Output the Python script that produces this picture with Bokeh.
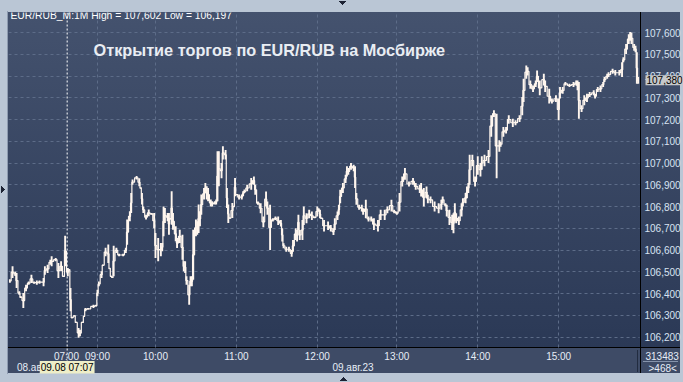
from bokeh.plotting import figure
from bokeh.models import (Range1d, LinearAxis, FixedTicker, Grid, Label, Span, BoxAnnotation,
                          ColumnDataSource)
from bokeh.embed import file_html
from bokeh.resources import INLINE

# ---------------- data (1-minute bars) ----------------
bar = [1, 3, 5, 6, 8, 9, 11, 13, 15, 17, 19, 21, 23, 26, 27, 29, 31, 32, 35, 37, 39, 41, 42, 44, 45,
       46, 47, 49, 50, 52, 53, 55, 56, 57, 59, 63, 65, 66, 67, 69, 70, 72, 74, 75, 76, 77, 78, 80, 82,
       85, 87, 88, 90, 91, 92, 95, 97, 98, 99, 100, 102, 104, 106, 108, 109, 111, 113, 114, 115, 116,
       118, 119, 120, 121, 122, 124, 125, 127, 129, 130, 131, 132, 134, 135, 136, 137, 139, 140, 141,
       142, 143, 145, 146, 147, 148, 150, 151, 153, 154, 155, 156, 158, 159, 161, 162, 163, 164, 166,
       167, 168, 169, 171, 173, 174, 175, 177, 180, 182, 183, 185, 187, 189, 191, 192, 194, 196, 198,
       200, 202, 203, 204, 206, 208, 210, 211, 213, 214, 215, 216, 218, 219, 221, 223, 225, 227, 229,
       230, 231, 232, 234, 237, 239, 241, 242, 244, 245, 246, 248, 250, 251, 252, 254, 256, 257, 258,
       260, 262, 263, 265, 267, 269, 271, 274, 276, 279, 281, 284, 286, 288, 290, 292, 294, 297, 300,
       302, 305, 306, 308, 310, 311, 313, 316, 319, 321, 322, 324, 325, 327, 329, 330, 331, 332, 334,
       336, 337, 339, 340, 341, 342, 344, 346, 348, 350, 351, 353, 356, 358, 360, 362, 364, 365, 367,
       369, 371, 374, 376, 379, 381, 382, 384, 385, 387, 389, 391, 392, 394, 397, 398, 401, 403, 406,
       408, 409, 411, 413, 416, 419, 421, 422, 423, 425, 427, 429, 431, 434, 435, 437, 439, 441, 442,
       444, 445, 448, 450, 453, 455, 456, 458, 460, 461, 462, 464, 465, 466, 467]

high = [106.465, 106.525, 106.500, 106.494, 106.410, 106.387, 106.402, 106.440, 106.455, 106.486,
        106.455, 106.460, 106.460, 106.471, 106.525, 106.532, 106.555, 106.571, 106.563, 106.540,
        106.548, 106.482, 106.666, 106.517, 106.512, 106.425, 106.292, 106.300, 106.270, 106.241,
        106.233, 106.270, 106.298, 106.333, 106.333, 106.348, 106.348, 106.417, 106.455, 106.502,
        106.533, 106.610, 106.625, 106.518, 106.482, 106.477, 106.620, 106.610, 106.583, 106.583,
        106.610, 106.740, 106.778, 106.862, 106.924, 106.940, 106.930, 106.888, 106.862, 106.800,
        106.762, 106.786, 106.770, 106.770, 106.678, 106.655, 106.632, 106.632, 106.800, 106.793,
        106.770, 106.770, 106.747, 106.870, 106.770, 106.709, 106.655, 106.693, 106.670, 106.548,
        106.548, 106.479, 106.440, 106.479, 106.479, 106.693, 106.740, 106.732, 106.809, 106.778,
        106.855, 106.885, 106.908, 106.893, 106.885, 106.832, 106.824, 106.824, 106.832, 107.054,
        107.054, 107.000, 107.077, 107.060, 106.885, 106.809, 106.750, 106.816, 106.803, 106.931,
        106.858, 106.855, 106.855, 106.870, 106.878, 106.900, 106.931, 106.938, 106.900, 106.823,
        106.815, 106.754, 106.869, 106.823, 106.808, 106.746, 106.754, 106.754, 106.738, 106.700,
        106.631, 106.615, 106.615, 106.600, 106.646, 106.700, 106.692, 106.762, 106.692, 106.738,
        106.800, 106.769, 106.785, 106.777, 106.754, 106.800, 106.792, 106.785, 106.749, 106.738,
        106.731, 106.715, 106.700, 106.746, 106.777, 106.808, 106.877, 106.908, 106.946, 106.985,
        106.977, 107.000, 106.992, 106.985, 106.862, 106.808, 106.808, 106.792, 106.831, 106.754,
        106.754, 106.746, 106.738, 106.785, 106.785, 106.800, 106.831, 106.785, 106.777, 106.862,
        106.938, 106.977, 106.915, 106.931, 106.908, 106.900, 106.908, 106.885, 106.892, 106.854,
        106.846, 106.823, 106.815, 106.831, 106.846, 106.815, 106.808, 106.785, 106.762, 106.769,
        106.815, 106.769, 106.754, 106.815, 106.838, 106.862, 106.892, 106.908, 107.038, 107.038,
        106.938, 107.031, 107.000, 107.031, 107.038, 107.060, 107.219, 107.242, 107.227, 107.105,
        107.098, 107.166, 107.166, 107.219, 107.204, 107.197, 107.219, 107.303, 107.387, 107.448,
        107.440, 107.379, 107.356, 107.379, 107.425, 107.379, 107.410, 107.379, 107.341, 107.296,
        107.311, 107.296, 107.349, 107.349, 107.372, 107.364, 107.372, 107.379, 107.379, 107.372,
        107.265, 107.311, 107.318, 107.326, 107.334, 107.318, 107.349, 107.356, 107.372, 107.395,
        107.410, 107.417, 107.433, 107.428, 107.428, 107.463, 107.486, 107.547, 107.592, 107.602,
        107.600, 107.547, 107.539, 107.509, 107.395]

low = [106.450, 106.471, 106.480, 106.425, 106.394, 106.379, 106.333, 106.410, 106.440, 106.448,
       106.445, 106.440, 106.445, 106.433, 106.486, 106.494, 106.532, 106.525, 106.548, 106.471,
       106.502, 106.476, 106.525, 106.479, 106.506, 106.318, 106.286, 106.294, 106.264, 106.197,
       106.203, 106.264, 106.292, 106.318, 106.326, 106.333, 106.340, 106.387, 106.433, 106.471,
       106.527, 106.571, 106.540, 106.512, 106.476, 106.471, 106.479, 106.586, 106.571, 106.571,
       106.586, 106.624, 106.732, 106.770, 106.900, 106.924, 106.893, 106.882, 106.809, 106.770,
       106.740, 106.755, 106.762, 106.700, 106.563, 106.548, 106.571, 106.594, 106.663, 106.724,
       106.732, 106.670, 106.740, 106.716, 106.693, 106.640, 106.609, 106.632, 106.555, 106.502,
       106.494, 106.440, 106.348, 106.433, 106.433, 106.463, 106.663, 106.670, 106.678, 106.709,
       106.762, 106.832, 106.862, 106.832, 106.824, 106.800, 106.800, 106.809, 106.809, 106.824,
       106.893, 106.930, 107.016, 107.016, 106.793, 106.724, 106.744, 106.747, 106.797, 106.847,
       106.852, 106.832, 106.832, 106.847, 106.862, 106.870, 106.877, 106.900, 106.854, 106.808,
       106.769, 106.705, 106.800, 106.762, 106.600, 106.731, 106.738, 106.715, 106.708, 106.639,
       106.608, 106.592, 106.592, 106.569, 106.592, 106.646, 106.639, 106.692, 106.646, 106.646,
       106.715, 106.723, 106.746, 106.738, 106.746, 106.754, 106.777, 106.746, 106.743, 106.685,
       106.692, 106.685, 106.669, 106.692, 106.738, 106.762, 106.815, 106.862, 106.908, 106.938,
       106.946, 106.969, 106.962, 106.885, 106.808, 106.785, 106.777, 106.762, 106.746, 106.731,
       106.731, 106.692, 106.685, 106.738, 106.738, 106.769, 106.777, 106.769, 106.762, 106.777,
       106.892, 106.923, 106.892, 106.900, 106.877, 106.862, 106.846, 106.800, 106.838, 106.815,
       106.815, 106.777, 106.769, 106.785, 106.815, 106.800, 106.754, 106.715, 106.692, 106.677,
       106.731, 106.723, 106.715, 106.754, 106.800, 106.815, 106.838, 106.862, 106.900, 106.985,
       106.892, 106.946, 106.938, 106.969, 106.985, 107.000, 107.121, 107.212, 106.930, 107.052,
       107.075, 107.121, 107.136, 107.181, 107.166, 107.174, 107.189, 107.219, 107.280, 107.387,
       107.402, 107.341, 107.326, 107.349, 107.372, 107.311, 107.356, 107.326, 107.273, 107.273,
       107.280, 107.197, 107.296, 107.318, 107.356, 107.349, 107.349, 107.356, 107.334, 107.204,
       107.235, 107.265, 107.280, 107.303, 107.311, 107.296, 107.326, 107.326, 107.349, 107.372,
       107.387, 107.395, 107.410, 107.402, 107.402, 107.395, 107.463, 107.501, 107.547, 107.562,
       107.547, 107.516, 107.509, 107.364, 107.364]

last_price = 107.380
n_bars = 468

price_ticks = [106.2, 106.3, 106.4, 106.5, 106.6, 106.7, 106.8, 106.9,
               107.0, 107.1, 107.2, 107.3, 107.4, 107.5, 107.6]
time_tick_bars = [43, 66, 109, 169, 229, 288, 348, 408]
time_tick_labels = ["07:00", "09:00", "10:00", "11:00", "12:00", "13:00", "14:00", "15:00"]
grid_bars = [66, 109, 169, 229, 288, 348, 408]
day_bars = [21.5, 255.5]
day_labels = ["08.авг.23", "09.авг.23"]
day_break_bar = 43.5
cursor_bar = 43.5

title_text = "Открытие торгов по EUR/RUB на Мосбирже"
info_text = "EUR/RUB_M:1M High = 107,602 Low = 106,197"
cursor_text = "09.08 07:07"
volume_text = "313483"
count_text = ">468<"

# ---------------- layout constants ----------------
W, H = 683, 382
FL, FT, FR, FB = 8, 12, 683, 373     # plot frame (dark area, right edge to canvas edge)
PR, PB = 640, 347                    # right / bottom edge of the price area
FONT = "Liberation Sans"
SMALL = "10px"

ppu = (336.5 - 32) / 1.4             # pixels per price unit
ppb = (PR - FL) / n_bars             # pixels per bar
y_top = 107.6 + (32 - FT) / ppu
y_bot = 106.2 - (FB - 336.5) / ppu
x_end = (FR - FL) / ppb
pb_price = 106.2 - (PB - 336.5) / ppu   # price at the bottom edge of price area


def sx(X):
    return X - FL


def sy(Y):
    return FB - Y


ARROW = "#1c2233"
p = figure(width=W, height=H, output_backend="svg", toolbar_location=None,
           x_range=Range1d(0, x_end), y_range=Range1d(y_bot, y_top),
           x_axis_type=None, y_axis_type=None,
           min_border_left=FL, min_border_top=FT, min_border_right=W - FR,
           min_border_bottom=H - FB)
p.border_fill_color = None
p.background_fill_color = None
p.outline_line_color = None
p.grid.visible = False
p.styles = {
    "background": ", ".join([
        # small scroll arrows in the window frame
        f"linear-gradient(to bottom left, {ARROW} 50%, transparent 50%) 339px 1px / 4px 4px no-repeat",
        f"linear-gradient(to bottom right, {ARROW} 50%, transparent 50%) 343px 1px / 4px 4px no-repeat",
        f"linear-gradient(to top left, {ARROW} 50%, transparent 50%) 339px 377px / 4px 4px no-repeat",
        f"linear-gradient(to top right, {ARROW} 50%, transparent 50%) 343px 377px / 4px 4px no-repeat",
        f"linear-gradient(to top right, {ARROW} 50%, transparent 50%) 1px 186px / 4px 4px no-repeat",
        f"linear-gradient(to bottom right, {ARROW} 50%, transparent 50%) 1px 190px / 4px 4px no-repeat",
        # scale separators
        "linear-gradient(#000, #000) 640px 12px / 1px 361px no-repeat",
        "linear-gradient(#000, #000) 8px 347px / 672px 1px no-repeat",
        "linear-gradient(#222c40, #222c40) 637px 350px / 1px 22px no-repeat",
        "linear-gradient(#8593ab, #8593ab) 643px 361px / 35px 1px no-repeat",
        "linear-gradient(#8e9bb0, #8e9bb0) 7px 11px / 1px 363px no-repeat",
        # panel backgrounds
        "linear-gradient(to bottom, #44526e 0px, #2b3956 335px, #3e4b66 335px, #3e4b66 361px)"
        " 8px 12px / 672px 361px no-repeat",
        "#bac6d5",
    ]),
}

# grids, limited to the price area
has_cross = "cross_bounds" in Grid.properties()
hgrid = Grid(dimension=1, ticker=FixedTicker(ticks=price_ticks),
             grid_line_color="#5d6c88", grid_line_dash="3 3", grid_line_width=1)
vgrid = Grid(dimension=0, ticker=FixedTicker(ticks=grid_bars),
             grid_line_color="#5d6c88", grid_line_dash="3 3", grid_line_width=1)
if has_cross:
    hgrid.cross_bounds = (0, n_bars)
    vgrid.cross_bounds = (pb_price, y_top)
p.add_layout(hgrid)
p.add_layout(vgrid)

if not has_cross:
    top_c, bot_c = (0x44, 0x52, 0x6e), (0x2b, 0x39, 0x56)
    nb = 30
    for i in range(nb):
        ya = FT + (PB - FT) * i / nb
        yb = FT + (PB - FT) * (i + 1) / nb
        t = ((ya + yb) / 2 - FT) / (PB - FT)
        c = "#%02x%02x%02x" % tuple(int(round(top_c[k] + (bot_c[k] - top_c[k]) * t)) for k in range(3))
        p.add_layout(BoxAnnotation(left=sx(PR + 1), right=sx(680), top=sy(ya), bottom=sy(yb) - 0.5,
                                   left_units="screen", right_units="screen",
                                   top_units="screen", bottom_units="screen",
                                   fill_color=c, fill_alpha=1, line_color=None, level="glyph"))
    p.add_layout(BoxAnnotation(left=sx(FL), right=sx(680), top=sy(PB + 1), bottom=sy(FB),
                               left_units="screen", right_units="screen",
                               top_units="screen", bottom_units="screen",
                               fill_color="#3e4b66", fill_alpha=1, line_color=None, level="glyph"))

# price scale on the right (labels pulled back into the dark panel)
yaxis = LinearAxis(ticker=FixedTicker(ticks=price_ticks),
                   major_label_overrides={v: ("%.3f" % v).replace(".", ",") for v in price_ticks})
yaxis.axis_line_color = None
yaxis.major_tick_line_color = None
yaxis.minor_tick_line_color = None
yaxis.major_tick_out = 0
yaxis.major_tick_in = 0
yaxis.major_label_standoff = -(FR - 645)
yaxis.major_label_text_color = "#d8e3f2"
yaxis.major_label_text_font = FONT
yaxis.major_label_text_font_size = SMALL
p.add_layout(yaxis, "right")

# time scale at the bottom (labels pulled up into the time panel)
xaxis = LinearAxis(ticker=FixedTicker(ticks=time_tick_bars),
                   major_label_overrides={b: l for b, l in zip(time_tick_bars, time_tick_labels)})
xaxis.axis_line_color = None
xaxis.major_tick_line_color = None
xaxis.minor_tick_line_color = None
xaxis.major_tick_out = 0
xaxis.major_tick_in = 0
xaxis.major_label_standoff = -(FB - 350)
xaxis.major_label_text_color = "#e6edf6"
xaxis.major_label_text_font = FONT
xaxis.major_label_text_font_size = SMALL
p.add_layout(xaxis, "below")

# price bars
src = ColumnDataSource(dict(bar=bar, high=high, low=low,
                            mid=[(h + l) / 2 for h, l in zip(high, low)]))
p.step("bar", "mid", source=src, mode="center", line_color="#fff6ee", line_width=1.2)
p.segment(x0="bar", y0="low", x1="bar", y1="high", source=src,
          line_color="#fff6ee", line_width=1.9)

# day separator
p.add_layout(Span(location=day_break_bar, dimension="height", line_color="white",
                  line_dash="2 2", line_width=1))

# texts
has_pad = "padding" in Label.properties()
p.add_layout(Label(x=sx(10), y=sy(15), x_units="screen", y_units="screen", text=info_text,
                   text_color="white", text_font=FONT, text_font_size="10.3px",
                   text_baseline="middle"))
p.add_layout(Label(x=sx(93), y=sy(49), x_units="screen", y_units="screen", text=title_text,
                   text_color="#e9edf3", text_font=FONT, text_font_size="16.3px",
                   text_font_style="bold", text_baseline="middle"))
for b, lab in zip(day_bars, day_labels):
    p.add_layout(Label(x=b, y=sy(367), y_units="screen", text=lab, text_align="center",
                       text_color="#e6edf6", text_font=FONT, text_font_size=SMALL,
                       text_baseline="middle"))
cur = Label(x=cursor_bar, y=sy(367), y_units="screen", text=cursor_text,
            text_align="center", text_color="black", text_font=FONT,
            text_font_size=SMALL, text_baseline="middle",
            background_fill_color="#eeeec8", background_fill_alpha=1.0)
tag = Label(x=sx(645), y=last_price, x_units="screen",
            text=("%.3f" % last_price).replace(".", ","),
            text_color="black", text_font=FONT, text_font_size=SMALL,
            text_baseline="middle", background_fill_color="#c6c8ca",
            background_fill_alpha=1.0)
if has_pad:
    cur.padding = 1
    tag.padding = 1
p.add_layout(cur)
p.add_layout(tag)
p.add_layout(Label(x=sx(645), y=sy(355), x_units="screen", y_units="screen", text=volume_text,
                   text_color="#e6edf6", text_font=FONT, text_font_size=SMALL,
                   text_baseline="middle"))
p.add_layout(Label(x=sx(648), y=sy(367.5), x_units="screen", y_units="screen", text=count_text,
                   text_color="#e6edf6", text_font=FONT, text_font_size=SMALL,
                   text_baseline="middle"))

open("out.html", "w").write(file_html(p, INLINE))
